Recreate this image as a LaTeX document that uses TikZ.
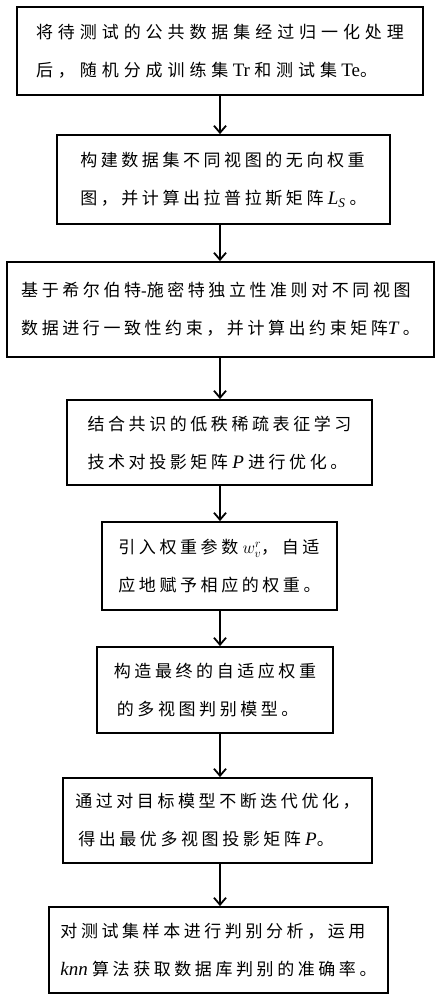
\documentclass[tikz,border=0pt]{standalone}
\usepackage{fontspec}
\setmainfont{Liberation Serif}
\newfontfamily\zhfont[LetterSpace=21]{Noto Sans CJK SC}
\newfontfamily\zhfontw[LetterSpace=29]{Noto Sans CJK SC}
\newcommand\zh[1]{{\zhfont #1}}
\newcommand\zhw[1]{{\zhfontw #1}}
\newcommand\lat[1]{{\fontsize{19}{38}\selectfont #1}}
\newcommand\ivar[1]{{\fontsize{19}{38}\selectfont\itshape #1}}
\usetikzlibrary{arrows.meta}
\tikzset{
  box/.style={draw=black, line width=1.8pt, inner sep=0pt, align=left,
    font=\fontsize{17}{38}\selectfont},
  arr/.style={line width=1.8pt, -{Straight Barb[length=7pt,width=12pt,line width=1.8pt]}}
}
\begin{document}
\begin{tikzpicture}[x=1pt,y=-1pt]
\useasboundingbox[fill=white] (0,0) rectangle (440,1000);
\coordinate (ax) at (220,0);
\node[box, minimum width=406pt, minimum height=88pt] (b1) at (220,51)
  {\zhw{将待测试的公共数据集经过归一化处理}\\\zhw{后，随机分成训练集} \lat{Tr} \zhw{和测试集} \lat{Te}\zhw{。}};
\node[box, minimum width=333pt, minimum height=89pt] (b2) at (223.5,179.5)
  {\zh{构建数据集不同视图的无向权重}\\\zh{图，并计算出拉普拉斯矩阵} \ivar{L\textsubscript{S}} \zh{。}};
\node[box, minimum width=427pt, minimum height=95pt] (b3) at (220.5,309.5)
  {\zh{基于希尔伯特}-\zh{施密特独立性准则对不同视图}\\\zh{数据进行一致性约束，并计算出约束矩阵}\ivar{T} \zh{。}};
\node[box, minimum width=305pt, minimum height=85pt] (b4) at (219.5,442.5)
  {\zh{结合共识的低秩稀疏表征学习}\\\zh{技术对投影矩阵} \ivar{P} \zh{进行优化。}};
\node[box, minimum width=235pt, minimum height=88pt] (b5) at (219.5,566)
  {\zh{引入权重参数} {\fontsize{18}{38}\selectfont$w_v^r$}\zh{，自适}\\\zh{应地赋予相应的权重。}};
\node[box, minimum width=236pt, minimum height=86pt] (b6) at (215,690)
  {\zh{构造最终的自适应权重}\\\hspace{3pt}\zh{的多视图判别模型。}};
\node[box, minimum width=309pt, minimum height=85pt] (b7) at (217.5,820.5)
  {\zh{通过对目标模型不断迭代优化，}\\\hspace{3pt}\zh{得出最优多视图投影矩阵} \ivar{P}\zh{。}};
\node[box, minimum width=339pt, minimum height=86pt] (b8) at (218.5,950)
  {\zh{对测试集样本进行判别分析，运用}\\\ivar{knn} \zh{算法获取数据库判别的准确率。}};
\draw[arr] (b1.south -| ax) -- (b2.north -| ax);
\draw[arr] (b2.south -| ax) -- (b3.north -| ax);
\draw[arr] (b3.south -| ax) -- (b4.north -| ax);
\draw[arr] (b4.south -| ax) -- (b5.north -| ax);
\draw[arr] (b5.south -| ax) -- (b6.north -| ax);
\draw[arr] (b6.south -| ax) -- (b7.north -| ax);
\draw[arr] (b7.south -| ax) -- (b8.north -| ax);
\end{tikzpicture}
\end{document}
